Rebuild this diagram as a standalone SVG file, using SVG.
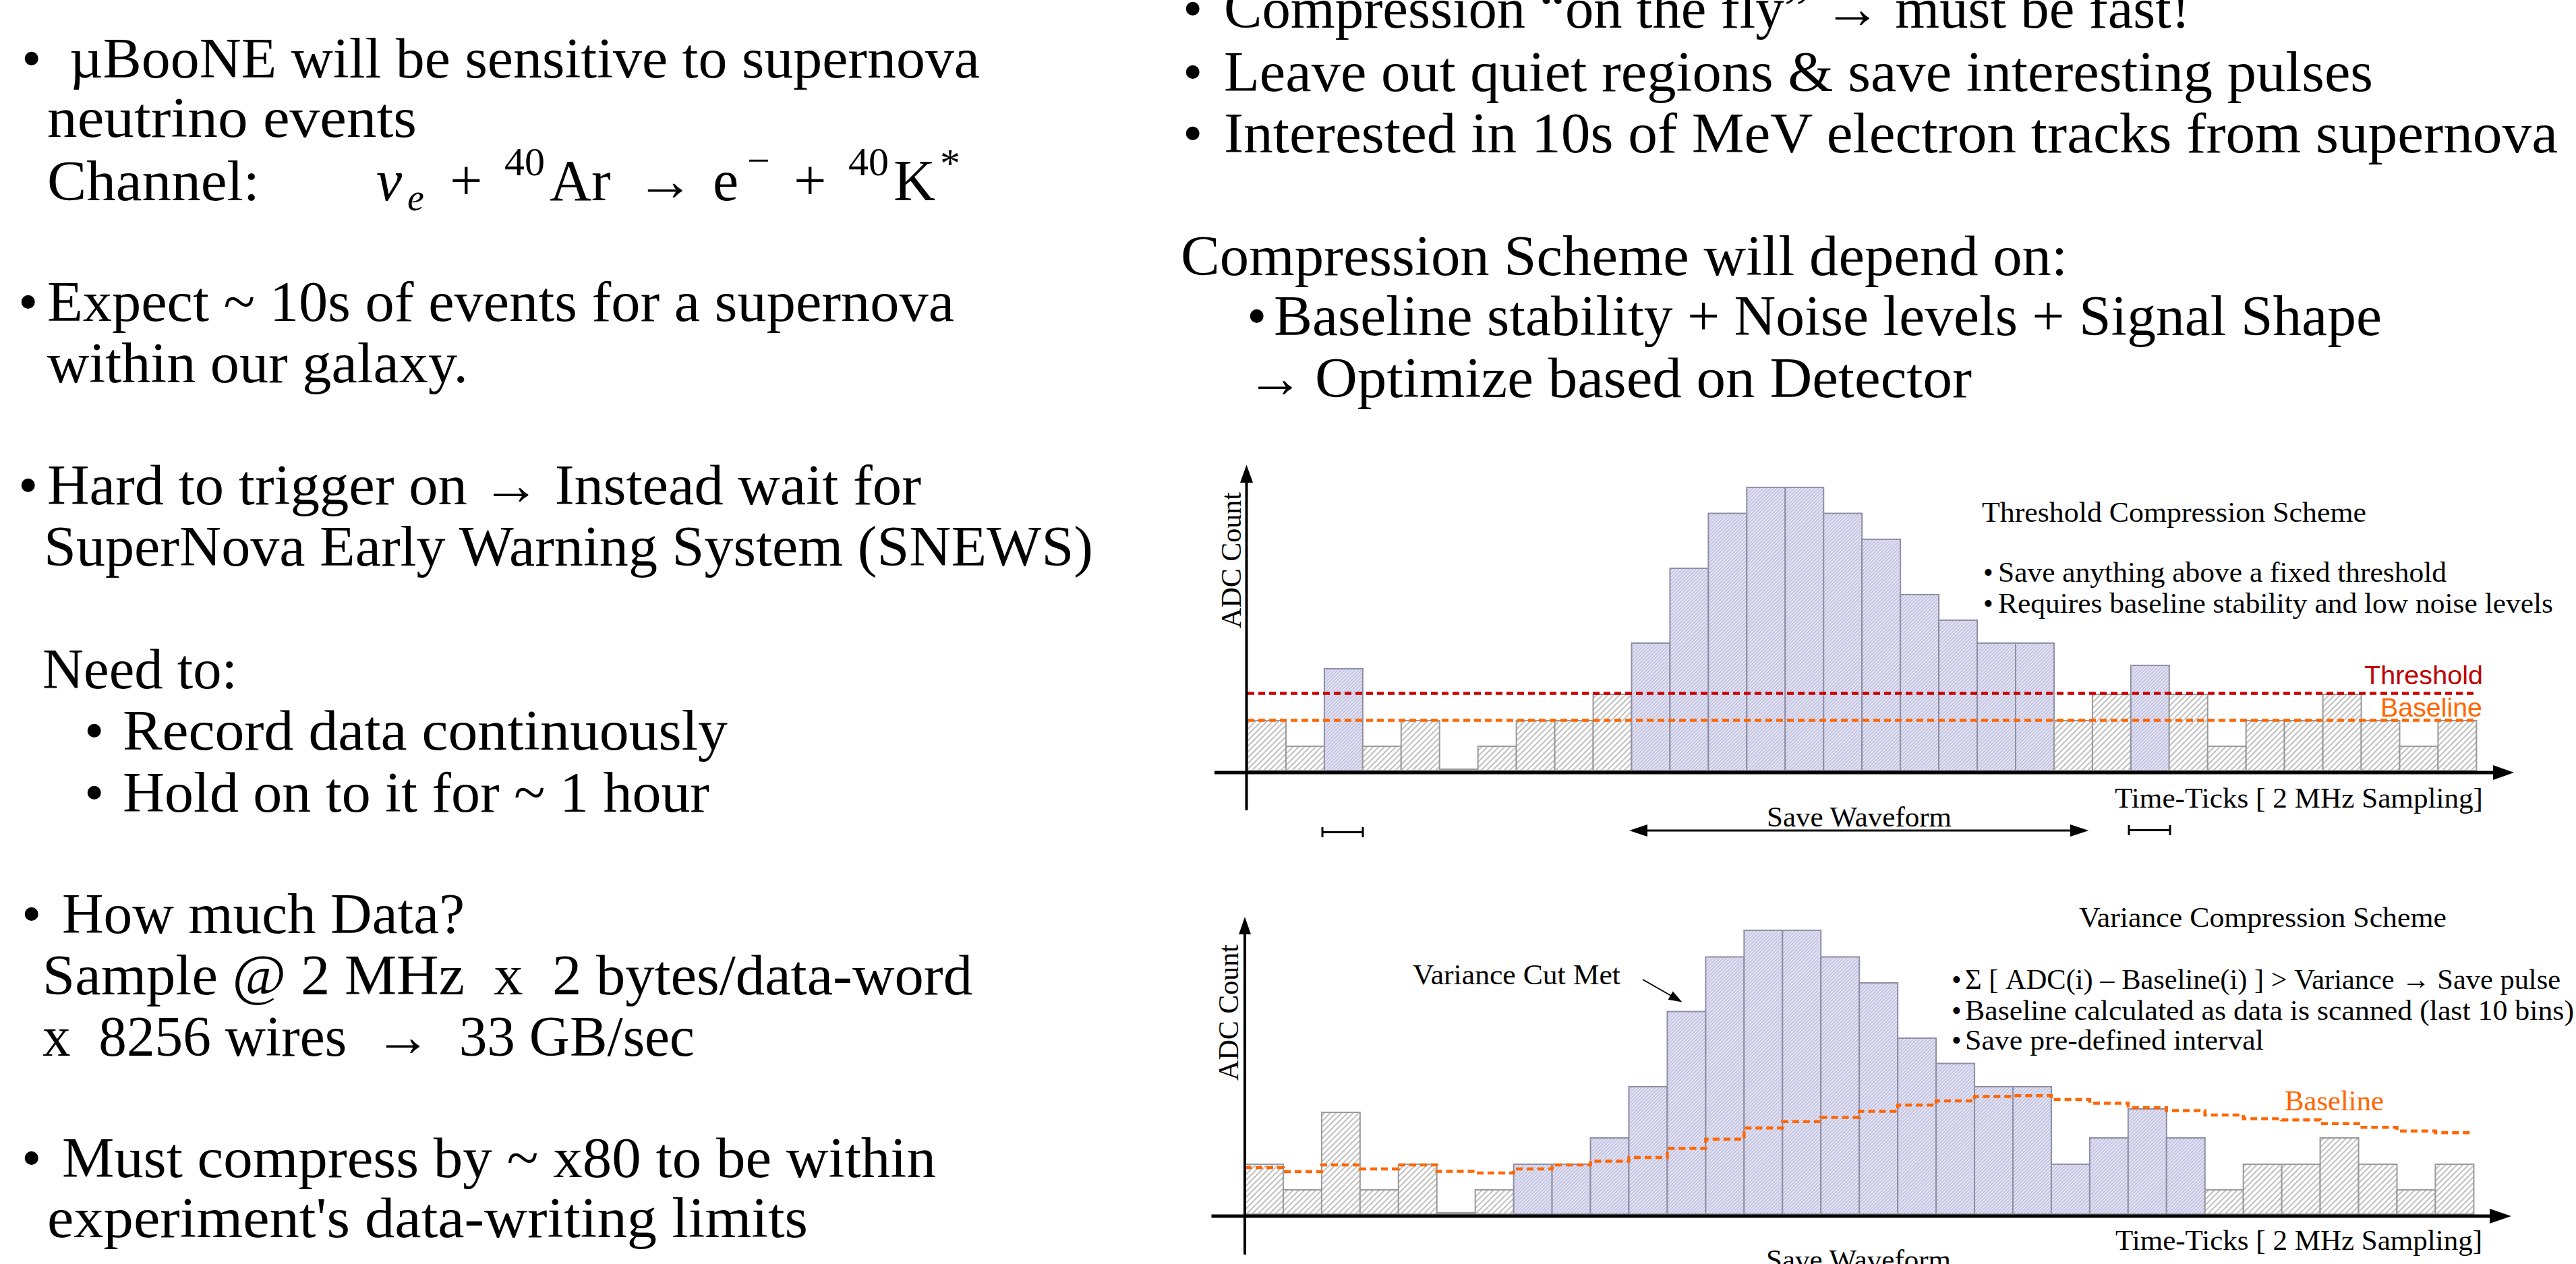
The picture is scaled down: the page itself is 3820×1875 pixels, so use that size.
<svg xmlns="http://www.w3.org/2000/svg" width="3820" height="1875" viewBox="0 0 3820 1875">
<style>
.m{font-family:"Liberation Serif",serif;font-size:84px;fill:#000;white-space:pre}
.f{font-family:"Liberation Serif",serif;font-size:86px;fill:#000}
.c{font-family:"Liberation Serif",serif;font-size:42px;fill:#000;white-space:pre}
.s{font-family:"Liberation Sans",sans-serif;font-size:39px}
.or{fill:#ff6600}
.g{fill:url(#hg);stroke:#9a9a9a;stroke-width:2}
.b{fill:url(#hb);stroke:#8e8ea6;stroke-width:2}
.ax{stroke:#000;fill:none}
.thr{stroke:#cc0000;stroke-width:4.5;stroke-dasharray:10 6;fill:none}
.bl{stroke:#ff6600;stroke-width:4.5;stroke-dasharray:10 6;fill:none}
.ln{stroke:#000;stroke-width:3;fill:none}
</style>
<defs>
<pattern id="hg" patternUnits="userSpaceOnUse" width="6" height="6" patternTransform="rotate(45)">
<rect width="6" height="6" fill="#fff"/>
<line x1="3" y1="0" x2="3" y2="6" stroke="#9c9c9c" stroke-width="1.3"/>
</pattern>
<pattern id="hb" patternUnits="userSpaceOnUse" width="3.6" height="3.6" patternTransform="rotate(45)">
<rect width="3.6" height="3.6" fill="#e6e6f5"/>
<line x1="1.8" y1="0" x2="1.8" y2="3.6" stroke="#a6a6d2" stroke-width="1"/>
</pattern>
</defs>
<rect width="3820" height="1875" fill="#fff"/>

<g id="left-text">
<text class="m" x="32" y="115">•</text>
<text class="m" x="103" y="115" textLength="1350" lengthAdjust="spacingAndGlyphs">µBooNE will be sensitive to supernova</text>
<text class="m" x="70" y="203" textLength="548" lengthAdjust="spacingAndGlyphs">neutrino events</text>
<text class="m" x="70" y="297" textLength="315" lengthAdjust="spacingAndGlyphs">Channel:</text>
<text class="f" y="297"><tspan x="558" font-style="italic">ν</tspan><tspan x="604" y="312" font-size="56" font-style="italic">e</tspan><tspan x="667" y="297">+</tspan><tspan x="748" y="260" font-size="60">40</tspan><tspan x="815" y="297">Ar</tspan><tspan x="943">→</tspan><tspan x="1057">e</tspan><tspan x="1108" y="258" font-size="60">−</tspan><tspan x="1177" y="297">+</tspan><tspan x="1258" y="260" font-size="60">40</tspan><tspan x="1325" y="297">K</tspan><tspan x="1394" y="262" font-size="60">*</tspan></text>
<text class="m" x="27" y="476">•</text>
<text class="m" x="70" y="476" textLength="1345" lengthAdjust="spacingAndGlyphs">Expect ~ 10s of events for a supernova</text>
<text class="m" x="70" y="567" textLength="624" lengthAdjust="spacingAndGlyphs">within our galaxy.</text>
<text class="m" x="27" y="748">•</text>
<text class="m" x="70" y="748" textLength="1296" lengthAdjust="spacingAndGlyphs">Hard to trigger on → Instead wait for</text>
<text class="m" x="65" y="839" textLength="1556" lengthAdjust="spacingAndGlyphs">SuperNova Early Warning System (SNEWS)</text>
<text class="m" x="63" y="1021" textLength="289" lengthAdjust="spacingAndGlyphs">Need to:</text>
<text class="m" x="125" y="1112">•</text>
<text class="m" x="182" y="1112" textLength="897" lengthAdjust="spacingAndGlyphs">Record data continuously</text>
<text class="m" x="125" y="1204">•</text>
<text class="m" x="182" y="1204" textLength="870" lengthAdjust="spacingAndGlyphs">Hold on to it for ~ 1 hour</text>
<text class="m" x="32" y="1384">•</text>
<text class="m" x="92" y="1384" textLength="597" lengthAdjust="spacingAndGlyphs">How much Data?</text>
<text class="m" x="63" y="1475" textLength="1379" lengthAdjust="spacingAndGlyphs">Sample @ 2 MHz  x  2 bytes/data-word</text>
<text class="m" x="63" y="1566" textLength="967" lengthAdjust="spacingAndGlyphs">x  8256 wires  →  33 GB/sec</text>
<text class="m" x="32" y="1746">•</text>
<text class="m" x="92" y="1746" textLength="1296" lengthAdjust="spacingAndGlyphs">Must compress by ~ x80 to be within</text>
<text class="m" x="70" y="1835" textLength="1128" lengthAdjust="spacingAndGlyphs">experiment's data-writing limits</text>
</g>

<g id="right-text">
<text class="m" x="1754" y="41">•</text>
<text class="m" x="1815" y="41" textLength="1433" lengthAdjust="spacingAndGlyphs">Compression “on the fly” → must be fast!</text>
<text class="m" x="1754" y="135">•</text>
<text class="m" x="1815" y="135" textLength="1704" lengthAdjust="spacingAndGlyphs">Leave out quiet regions &amp; save interesting pulses</text>
<text class="m" x="1754" y="226">•</text>
<text class="m" x="1815" y="226" textLength="1978" lengthAdjust="spacingAndGlyphs">Interested in 10s of MeV electron tracks from supernova</text>
<text class="m" x="1751" y="408" textLength="1315" lengthAdjust="spacingAndGlyphs">Compression Scheme will depend on:</text>
<text class="m" x="1849" y="497">•</text>
<text class="m" x="1889" y="497" textLength="1643" lengthAdjust="spacingAndGlyphs">Baseline stability + Noise levels + Signal Shape</text>
<text class="m" x="1849" y="589">→</text>
<text class="m" x="1950" y="589" textLength="974" lengthAdjust="spacingAndGlyphs">Optimize based on Detector</text>
</g>

<g id="threshold-chart">
<g transform="translate(1850 0)">
<rect class="g" x="0" y="1069" width="56.95" height="74"/>
<rect class="g" x="56.95" y="1107" width="56.95" height="36"/>
<rect class="b" x="113.9" y="992" width="56.95" height="151"/>
<rect class="g" x="170.85" y="1107" width="56.95" height="36"/>
<rect class="g" x="227.8" y="1069" width="56.95" height="74"/>
<rect class="g" x="284.75" y="1141" width="56.95" height="2"/>
<rect class="g" x="341.7" y="1107" width="56.95" height="36"/>
<rect class="g" x="398.65" y="1069" width="56.95" height="74"/>
<rect class="g" x="455.6" y="1069" width="56.95" height="74"/>
<rect class="g" x="512.55" y="1030" width="56.95" height="113"/>
<rect class="b" x="569.5" y="954" width="56.95" height="189"/>
<rect class="b" x="626.45" y="843" width="56.95" height="300"/>
<rect class="b" x="683.4" y="761.5" width="56.95" height="381.5"/>
<rect class="b" x="740.35" y="723" width="56.95" height="420"/>
<rect class="b" x="797.3" y="723" width="56.95" height="420"/>
<rect class="b" x="854.25" y="761.5" width="56.95" height="381.5"/>
<rect class="b" x="911.2" y="800" width="56.95" height="343"/>
<rect class="b" x="968.15" y="882" width="56.95" height="261"/>
<rect class="b" x="1025.1" y="920" width="56.95" height="223"/>
<rect class="b" x="1082.05" y="954" width="56.95" height="189"/>
<rect class="b" x="1139" y="954" width="56.95" height="189"/>
<rect class="g" x="1195.95" y="1069" width="56.95" height="74"/>
<rect class="g" x="1252.9" y="1030" width="56.95" height="113"/>
<rect class="b" x="1309.85" y="987" width="56.95" height="156"/>
<rect class="g" x="1366.8" y="1030" width="56.95" height="113"/>
<rect class="g" x="1423.75" y="1107" width="56.95" height="36"/>
<rect class="g" x="1480.7" y="1069" width="56.95" height="74"/>
<rect class="g" x="1537.65" y="1069" width="56.95" height="74"/>
<rect class="g" x="1594.6" y="1030" width="56.95" height="113"/>
<rect class="g" x="1651.55" y="1069" width="56.95" height="74"/>
<rect class="g" x="1708.5" y="1107" width="56.95" height="36"/>
<rect class="g" x="1765.45" y="1069" width="56.95" height="74"/>
</g>
<line class="thr" x1="1850" y1="1028.5" x2="3669" y2="1028.5"/>
<line class="bl" x1="1850" y1="1068.5" x2="3669" y2="1068.5"/>
<line class="ax" x1="1848.5" y1="1202" x2="1848.5" y2="712" stroke-width="4"/>
<polygon points="1848.5,689.5 1839,716 1858,716" fill="#000"/>
<line class="ax" x1="1801" y1="1146" x2="3700" y2="1146" stroke-width="5"/>
<polygon points="3728,1146 3697,1135 3697,1157" fill="#000"/>
<text class="c" transform="translate(1840 831) rotate(-90)" text-anchor="middle">ADC Count</text>
<text class="c" x="2939" y="774" textLength="570" lengthAdjust="spacingAndGlyphs" font-size="44">Threshold Compression Scheme</text>
<text class="c" x="2941" y="863">•</text>
<text class="c" x="2963" y="863" textLength="665" lengthAdjust="spacingAndGlyphs">Save anything above a fixed threshold</text>
<text class="c" x="2941" y="909">•</text>
<text class="c" x="2963" y="909" textLength="823" lengthAdjust="spacingAndGlyphs">Requires baseline stability and low noise levels</text>
<text class="s" x="3506" y="1015" fill="#c00000" textLength="176" lengthAdjust="spacingAndGlyphs">Threshold</text>
<text class="s" x="3530" y="1063" fill="#ff6600" textLength="151" lengthAdjust="spacingAndGlyphs">Baseline</text>
<text class="c" x="3136" y="1198" textLength="546" lengthAdjust="spacingAndGlyphs">Time-Ticks [ 2 MHz Sampling]</text>
<text class="c" x="2620" y="1226" textLength="274" lengthAdjust="spacingAndGlyphs">Save Waveform</text>
</g>

<g id="variance-chart">
<g transform="translate(1846 0)">
<rect class="g" x="0" y="1727" width="56.95" height="74"/>
<rect class="g" x="56.95" y="1765" width="56.95" height="36"/>
<rect class="g" x="113.9" y="1650" width="56.95" height="151"/>
<rect class="g" x="170.85" y="1765" width="56.95" height="36"/>
<rect class="g" x="227.8" y="1727" width="56.95" height="74"/>
<rect class="g" x="284.75" y="1799" width="56.95" height="2"/>
<rect class="g" x="341.7" y="1765" width="56.95" height="36"/>
<rect class="b" x="398.65" y="1727" width="56.95" height="74"/>
<rect class="b" x="455.6" y="1727" width="56.95" height="74"/>
<rect class="b" x="512.55" y="1688" width="56.95" height="113"/>
<rect class="b" x="569.5" y="1612" width="56.95" height="189"/>
<rect class="b" x="626.45" y="1500.5" width="56.95" height="300.5"/>
<rect class="b" x="683.4" y="1419.5" width="56.95" height="381.5"/>
<rect class="b" x="740.35" y="1380" width="56.95" height="421"/>
<rect class="b" x="797.3" y="1380" width="56.95" height="421"/>
<rect class="b" x="854.25" y="1419.5" width="56.95" height="381.5"/>
<rect class="b" x="911.2" y="1458" width="56.95" height="343"/>
<rect class="b" x="968.15" y="1540" width="56.95" height="261"/>
<rect class="b" x="1025.1" y="1577.5" width="56.95" height="223.5"/>
<rect class="b" x="1082.05" y="1612" width="56.95" height="189"/>
<rect class="b" x="1139" y="1612" width="56.95" height="189"/>
<rect class="b" x="1195.95" y="1727" width="56.95" height="74"/>
<rect class="b" x="1252.9" y="1688" width="56.95" height="113"/>
<rect class="b" x="1309.85" y="1645" width="56.95" height="156"/>
<rect class="b" x="1366.8" y="1688" width="56.95" height="113"/>
<rect class="g" x="1423.75" y="1765" width="56.95" height="36"/>
<rect class="g" x="1480.7" y="1727" width="56.95" height="74"/>
<rect class="g" x="1537.65" y="1727" width="56.95" height="74"/>
<rect class="g" x="1594.6" y="1688" width="56.95" height="113"/>
<rect class="g" x="1651.55" y="1727" width="56.95" height="74"/>
<rect class="g" x="1708.5" y="1765" width="56.95" height="36"/>
<rect class="g" x="1765.45" y="1727" width="56.95" height="74"/>
<path class="bl" d="M0 1732H56.95V1738H113.9V1728H170.85V1734H227.8V1728H284.75V1737.5H341.7V1740H398.65V1734H455.6V1728H512.55V1722.4H569.5V1717H626.45V1703.4H683.4V1689.8H740.35V1673.3H797.3V1663.8H854.25V1657.5H911.2V1648.4H968.15V1639.2H1025.1V1633H1082.05V1626.4H1139V1625.3H1195.95V1631H1252.9V1636.6H1309.85V1642.9H1366.8V1647.6H1423.75V1653.9H1480.7V1659.4H1537.65V1661.2H1594.6V1666.7H1651.55V1672.2H1708.5V1677.7H1765.45V1680.3H1822.4"/>
</g>
<line class="ax" x1="1846" y1="1861" x2="1846" y2="1385" stroke-width="4"/>
<polygon points="1846,1360 1837,1386 1855,1386" fill="#000"/>
<line class="ax" x1="1796.5" y1="1804" x2="3695" y2="1804" stroke-width="5"/>
<polygon points="3724,1804 3692,1793 3692,1815" fill="#000"/>
<text class="c" transform="translate(1836 1502) rotate(-90)" text-anchor="middle">ADC Count</text>
<text class="c" x="3083" y="1375" textLength="545" lengthAdjust="spacingAndGlyphs" font-size="44">Variance Compression Scheme</text>
<text class="c" x="2894" y="1467">•</text>
<text class="c" x="2914" y="1467" textLength="883" lengthAdjust="spacingAndGlyphs">Σ [ ADC(i) – Baseline(i) ] &gt; Variance → Save pulse</text>
<text class="c" x="2894" y="1513">•</text>
<text class="c" x="2914" y="1513" textLength="903" lengthAdjust="spacingAndGlyphs">Baseline calculated as data is scanned (last 10 bins)</text>
<text class="c" x="2894" y="1557">•</text>
<text class="c" x="2914" y="1557" textLength="443" lengthAdjust="spacingAndGlyphs">Save pre-defined interval</text>
<text class="c" x="2095" y="1459.5" textLength="308" lengthAdjust="spacingAndGlyphs">Variance Cut Met</text>
<text class="c or" x="3388" y="1646.5" style="fill:#ff6600" textLength="147" lengthAdjust="spacingAndGlyphs">Baseline</text>
<text class="c" x="3137" y="1854" textLength="544" lengthAdjust="spacingAndGlyphs">Time-Ticks [ 2 MHz Sampling]</text>
<text class="c" x="2619" y="1883" textLength="274" lengthAdjust="spacingAndGlyphs">Save Waveform</text>
</g>

<g id="connectors">
<line class="ln" x1="1961" y1="1234.5" x2="2021" y2="1234.5"/>
<line class="ln" x1="1961" y1="1227" x2="1961" y2="1242"/>
<line class="ln" x1="2021" y1="1227" x2="2021" y2="1242"/>
<line class="ln" x1="3157" y1="1231.5" x2="3218" y2="1231.5"/>
<line class="ln" x1="3157" y1="1224" x2="3157" y2="1239"/>
<line class="ln" x1="3218" y1="1224" x2="3218" y2="1239"/>
<line class="ln" x1="2438" y1="1232" x2="3075" y2="1232"/>
<polygon points="2416,1232 2443,1223 2443,1241" fill="#000"/>
<polygon points="3097.5,1232 3070,1223 3070,1241" fill="#000"/>
<line x1="2436" y1="1453" x2="2478" y2="1477" stroke="#000" stroke-width="2"/>
<polygon points="2494.5,1486.5 2473.6,1482.7 2480.6,1470.5" fill="#000"/>
</g>
</svg>
